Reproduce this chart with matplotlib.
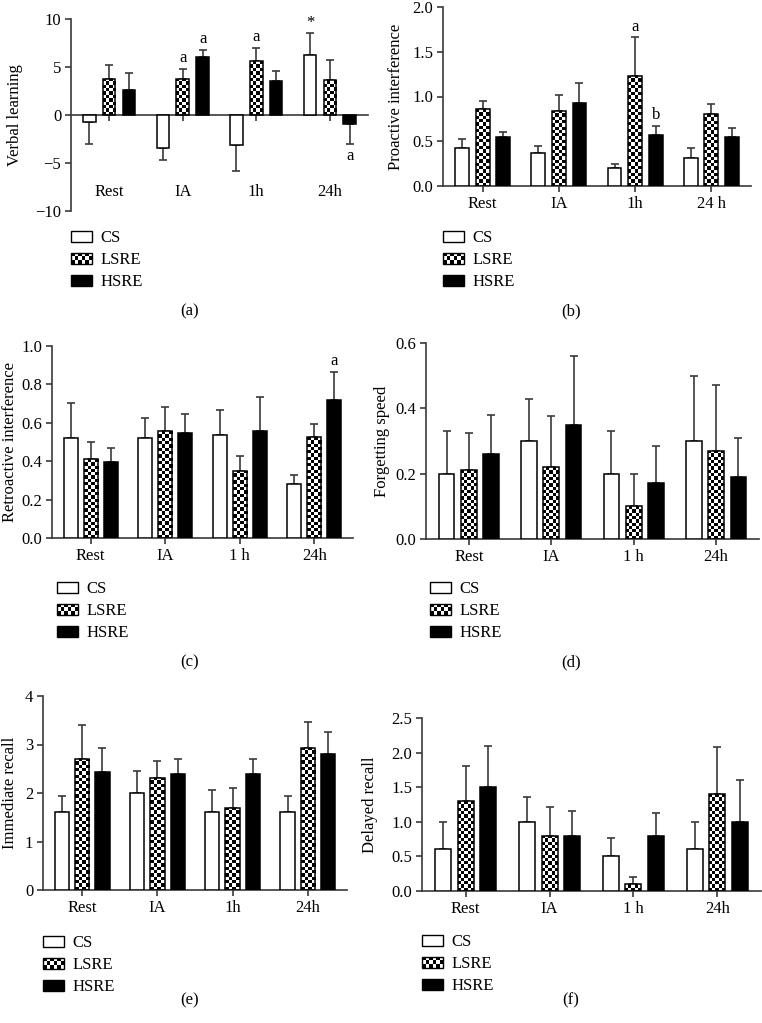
import numpy as np
import matplotlib
matplotlib.use('Agg')
import matplotlib.pyplot as plt
from matplotlib.patches import Patch, Rectangle
from matplotlib.legend_handler import HandlerBase

plt.rcParams['font.family'] = ['Liberation Serif', 'DejaVu Serif']
plt.rcParams['font.size'] = 12

# --- Dados ---
grupos = ['CS', 'LSRE', 'HSRE']

# (a) Verbal learning
cat_a = ['Rest', 'IA', '1h', '24h']
verbal_cs = [-0.7, -3.4, -3.15, 6.25]
verbal_cs_err = [2.3, 1.25, 2.65, 2.25]
verbal_lsre = [3.8, 3.8, 5.6, 3.6]
verbal_lsre_err = [1.4, 1.0, 1.4, 2.1]
verbal_hsre = [2.6, 6.0, 3.5, -0.9]
verbal_hsre_err = [1.8, 0.8, 1.1, 2.1]

# (b) Proactive interference
cat_b = ['Rest', 'IA', '1h', '24 h']
proativa_cs = [0.43, 0.37, 0.20, 0.31]
proativa_cs_err = [0.10, 0.08, 0.05, 0.12]
proativa_lsre = [0.86, 0.84, 1.23, 0.80]
proativa_lsre_err = [0.09, 0.18, 0.43, 0.12]
proativa_hsre = [0.55, 0.93, 0.575, 0.55]
proativa_hsre_err = [0.05, 0.22, 0.095, 0.10]

# (c) Retroactive interference
cat_c = ['Rest', 'IA', '1 h', '24h']
retro_cs = [0.52, 0.52, 0.535, 0.28]
retro_cs_err = [0.185, 0.105, 0.13, 0.05]
retro_lsre = [0.41, 0.555, 0.35, 0.525]
retro_lsre_err = [0.09, 0.125, 0.075, 0.07]
retro_hsre = [0.395, 0.548, 0.555, 0.72]
retro_hsre_err = [0.075, 0.10, 0.18, 0.145]

# (d) Forgetting speed
cat_d = ['Rest', 'IA', '1 h', '24h']
esquec_cs = [0.20, 0.30, 0.20, 0.30]
esquec_cs_err = [0.13, 0.13, 0.13, 0.20]
esquec_lsre = [0.21, 0.22, 0.10, 0.27]
esquec_lsre_err = [0.115, 0.155, 0.10, 0.20]
esquec_hsre = [0.26, 0.35, 0.17, 0.19]
esquec_hsre_err = [0.12, 0.21, 0.115, 0.12]

# (e) Immediate recall
cat_e = ['Rest', 'IA', '1h', '24h']
imediata_cs = [1.6, 2.0, 1.61, 1.61]
imediata_cs_err = [0.34, 0.46, 0.45, 0.33]
imediata_lsre = [2.71, 2.31, 1.70, 2.93]
imediata_lsre_err = [0.70, 0.35, 0.41, 0.53]
imediata_hsre = [2.43, 2.39, 2.39, 2.81]
imediata_hsre_err = [0.50, 0.32, 0.32, 0.45]

# (f) Delayed recall
cat_f = ['Rest', 'IA', '1 h', '24h']
tardia_cs = [0.60, 1.0, 0.50, 0.60]
tardia_cs_err = [0.40, 0.36, 0.26, 0.40]
tardia_lsre = [1.30, 0.80, 0.10, 1.40]
tardia_lsre_err = [0.50, 0.42, 0.10, 0.68]
tardia_hsre = [1.50, 0.80, 0.80, 1.00]
tardia_hsre_err = [0.59, 0.35, 0.32, 0.60]

W, H = 762, 1023
COR_EIXO = '#3a3a3a'
FS = 12


class CheckerHandler(HandlerBase):
    # quadriculado para a legenda do LSRE
    def create_artists(self, legend, orig_handle, xdescent, ydescent,
                       width, height, fontsize, trans):
        arts = [Rectangle((-xdescent, -ydescent), width, height, facecolor='white',
                          edgecolor='black', lw=1.0, transform=trans)]
        ncol, nrow = 6, 3
        cw, ch = width / ncol, height / nrow
        for i in range(nrow):
            for j in range(ncol):
                if (i + j) % 2 == 0:
                    arts.append(Rectangle((-xdescent + j * cw, -ydescent + i * ch), cw, ch,
                                          facecolor='black', edgecolor='none', transform=trans))
        return arts


def quadriculado(ax, rect, cel=3.3):
    x0, y0 = rect.get_x(), rect.get_y()
    w, h = rect.get_width(), rect.get_height()
    (px0, py0), (px1, py1) = ax.transData.transform([(x0, y0), (x0 + w, y0 + h)])
    ncol = max(1, int(round(abs(px1 - px0) / cel)))
    nrow = max(1, int(round(abs(py1 - py0) / cel)))
    board = np.indices((nrow, ncol)).sum(axis=0) % 2
    im = ax.imshow(board, extent=[x0, x0 + w, y0, y0 + h], cmap='gray',
                   interpolation='nearest', aspect='auto', origin='lower', zorder=2)
    im.set_clip_path(rect)


def painel(caixa, cats, series, erros, ylim, yticks, yfmt, ylabel, ylabel_px,
           legenda_px, legenda_y, letra, letra_px, larg=0.19, notas=(), rotulo_y=None):
    esq, dir_, topo, base = caixa
    ax = fig.add_axes([esq / W, 1 - base / H, (dir_ - esq) / W, (base - topo) / H])
    ax.set_xlim(-0.52, 3.52)
    ax.set_ylim(*ylim)
    x = np.arange(len(cats))
    offs = [-0.27, 0.0, 0.27]
    faces = ['white', 'none', 'black']
    conts = []
    for k in range(3):
        vals = np.array(series[k])
        err = np.array(erros[k])
        baixo = np.where(vals < 0, err, 0)
        cima = np.where(vals >= 0, err, 0)
        ax.errorbar(x + offs[k], vals, yerr=[baixo, cima], fmt='none', ecolor=COR_EIXO,
                    elinewidth=1.2, capsize=3, capthick=1.2, zorder=1)
        b = ax.bar(x + offs[k], vals, width=larg, facecolor=faces[k], edgecolor='black',
                   linewidth=1.1, zorder=3)
        conts.append(b)
    for r in conts[1]:
        quadriculado(ax, r)
    ax.set_xlim(-0.52, 3.52)
    ax.set_ylim(*ylim)

    for s in ['top', 'right']:
        ax.spines[s].set_visible(False)
    for s in ['left', 'bottom']:
        ax.spines[s].set_color(COR_EIXO)
        ax.spines[s].set_linewidth(1.2)
    ax.spines['bottom'].set_position(('data', 0))
    ax.set_xticks(x)
    ax.set_yticks(yticks)
    ax.set_yticklabels([yfmt.format(v).replace('-', '\u2212') for v in yticks])
    ax.tick_params(axis='both', length=4, width=1.2, color=COR_EIXO, labelsize=FS, pad=3)
    if rotulo_y is None:
        ax.set_xticklabels(cats)
    else:
        ax.set_xticklabels([])
        for xi, c in zip(x, cats):
            ax.text(xi, rotulo_y, c, ha='center', va='center', fontsize=FS)
    ax.set_ylabel(ylabel, fontsize=FS)
    ax.yaxis.set_label_coords((ylabel_px - esq) / (dir_ - esq), 0.5)

    for (g, k, txt, lado) in notas:
        vals = series[k][g]
        ponta = vals + erros[k][g] if lado == 'cima' else vals - erros[k][g]
        dy = 2 if lado == 'cima' else -3
        ax.annotate(txt, (g + offs[k], ponta), xytext=(0, dy), textcoords='offset points',
                    ha='center', va='bottom' if lado == 'cima' else 'top', fontsize=FS)

    h_cs = Patch(facecolor='white', edgecolor='black', lw=1.0)
    h_ls = Patch(facecolor='white', edgecolor='black', lw=1.0)
    h_hs = Patch(facecolor='black', edgecolor='black', lw=1.0)
    fig.legend([h_cs, h_ls, h_hs], grupos, loc='upper left',
               bbox_to_anchor=(legenda_px / W, 1 - legenda_y / H),
               frameon=False, borderpad=0, borderaxespad=0, handlelength=1.26,
               handleheight=0.66, handletextpad=0.5, labelspacing=0.36, fontsize=FS,
               handler_map={h_ls: CheckerHandler()})
    fig.text(letra_px[0] / W, 1 - letra_px[1] / H, letra, ha='center', va='center', fontsize=FS)
    return ax


fig = plt.figure(figsize=(W / 100, H / 100), dpi=100)

painel((71, 368, 19, 211), cat_a, [verbal_cs, verbal_lsre, verbal_hsre],
       [verbal_cs_err, verbal_lsre_err, verbal_hsre_err], (-10, 10), [-10, -5, 0, 5, 10], '{:.0f}',
       'Verbal learning', 23, 71, 230, '(a)', (190, 311), larg=0.17,
       notas=[(1, 1, 'a', 'cima'), (1, 2, 'a', 'cima'), (2, 1, 'a', 'cima'),
              (3, 0, '*', 'cima'), (3, 2, 'a', 'baixo')], rotulo_y=-8.0)

painel((443, 751, 7, 186), cat_b, [proativa_cs, proativa_lsre, proativa_hsre],
       [proativa_cs_err, proativa_lsre_err, proativa_hsre_err], (0, 2), [0, 0.5, 1.0, 1.5, 2.0],
       '{:.1f}', 'Proactive interference', 404, 443, 230, '(b)', (571, 311), larg=0.18,
       notas=[(2, 1, 'a', 'cima'), (2, 2, 'b', 'cima')])

painel((52, 353, 346, 538), cat_c, [retro_cs, retro_lsre, retro_hsre],
       [retro_cs_err, retro_lsre_err, retro_hsre_err], (0, 1), [0, 0.2, 0.4, 0.6, 0.8, 1.0],
       '{:.1f}', 'Retroactive interference', 18, 57, 581, '(c)', (190, 662),
       notas=[(3, 2, 'a', 'cima')])

painel((426, 759, 343, 539), cat_d, [esquec_cs, esquec_lsre, esquec_hsre],
       [esquec_cs_err, esquec_lsre_err, esquec_hsre_err], (0, 0.6), [0, 0.2, 0.4, 0.6],
       '{:.1f}', 'Forgetting speed', 390, 430, 581, '(d)', (571, 662))

painel((43, 347, 696, 890), cat_e, [imediata_cs, imediata_lsre, imediata_hsre],
       [imediata_cs_err, imediata_lsre_err, imediata_hsre_err], (0, 4), [0, 1, 2, 3, 4],
       '{:.0f}', 'Immediate recall', 18, 43, 935, '(e)', (190, 1000))

painel((422, 761, 718, 891), cat_f, [tardia_cs, tardia_lsre, tardia_hsre],
       [tardia_cs_err, tardia_lsre_err, tardia_hsre_err], (0, 2.5), [0, 0.5, 1.0, 1.5, 2.0, 2.5],
       '{:.1f}', 'Delayed recall', 378, 422, 934, '(f)', (571, 1000))

fig.savefig('out.png', dpi=100)
